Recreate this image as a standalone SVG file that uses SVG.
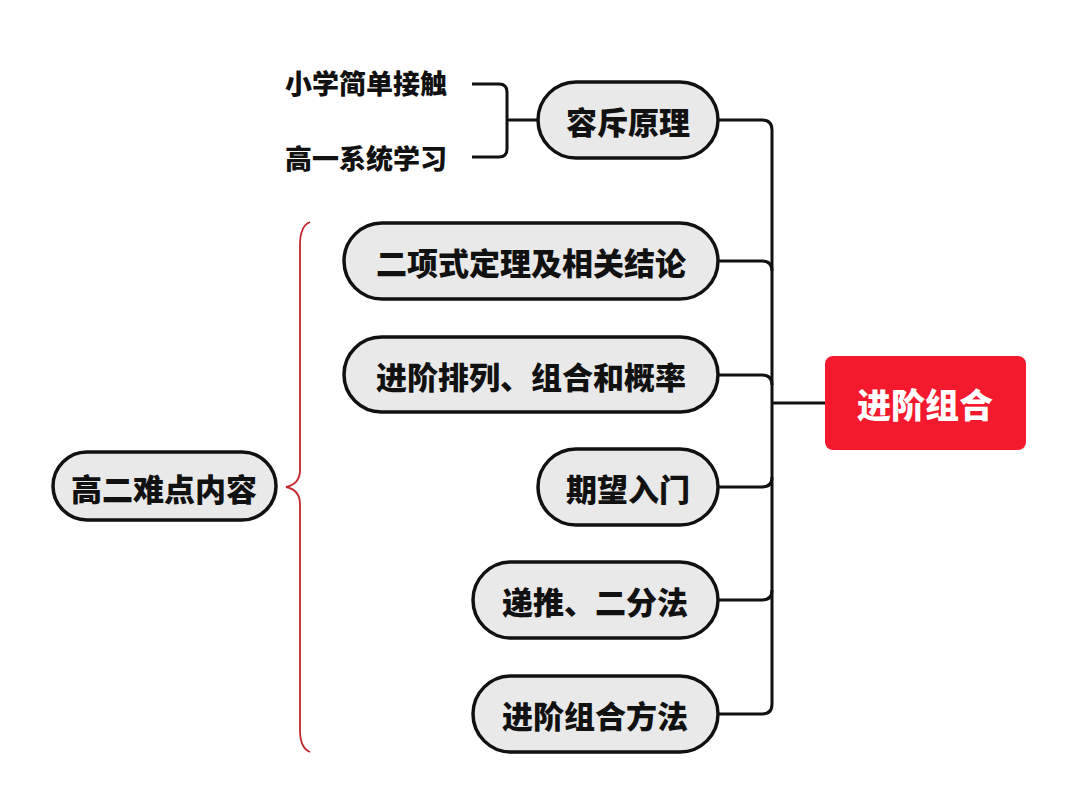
<svg xmlns="http://www.w3.org/2000/svg" width="1080" height="806" viewBox="0 0 1080 806">
<style>
.n{fill:#e9e9e9;stroke:#111;stroke-width:3.5}
.t{font-family:"Noto Sans CJK SC",sans-serif;font-weight:900;font-size:31px;fill:#111;text-anchor:middle;dominant-baseline:central}
.s{font-family:"Noto Sans CJK SC",sans-serif;font-weight:900;font-size:27px;fill:#111;dominant-baseline:central}
.c{fill:none;stroke:#111;stroke-width:3}
</style>
<rect width="1080" height="806" fill="#fff"/>
<g id="connectors">
<path class="c" d="M718,120 H762 Q772,120 772,130 V704 Q772,714 762,714 H718"/>
<path class="c" d="M718,261 H762 Q772,261 772,271"/>
<path class="c" d="M718,375 H762 Q772,375 772,385"/>
<path class="c" d="M718,487 H762 Q772,487 772,477"/>
<path class="c" d="M718,600 H762 Q772,600 772,590"/>
<path class="c" d="M772,403 H825"/>
<path class="c" d="M472,84 H499 Q507,84 507,92 V149 Q507,157 499,157 H472 M507,120 H538"/>
<path fill="none" stroke="#c0272d" stroke-width="1.8" d="M310,222 Q300,226 300,245 V470 Q300,484 286,487 Q300,490 300,504 V730 Q300,748 310,752"/>
</g>
<g id="rongchi"><rect class="n" x="538" y="82" width="180" height="76" rx="38"/><text class="t" x="628" y="120">容斥原理</text></g>
<g id="xiaoxue"><text class="s" x="285" y="82">小学简单接触</text></g>
<g id="gaoyi"><text class="s" x="285" y="157">高一系统学习</text></g>
<g id="erxiang"><rect class="n" x="344" y="223" width="374" height="76" rx="38"/><text class="t" x="531" y="261">二项式定理及相关结论</text></g>
<g id="pailie"><rect class="n" x="344" y="337" width="374" height="75" rx="37.5"/><text class="t" x="531" y="375">进阶排列、组合和概率</text></g>
<g id="qiwang"><rect class="n" x="538" y="449" width="180" height="76" rx="38"/><text class="t" x="628" y="487">期望入门</text></g>
<g id="ditui"><rect class="n" x="473" y="562" width="245" height="76" rx="38"/><text class="t" x="595" y="600">递推、二分法</text></g>
<g id="fangfa"><rect class="n" x="473" y="676" width="245" height="76" rx="38"/><text class="t" x="595" y="714">进阶组合方法</text></g>
<g id="gaoer"><rect class="n" x="53" y="452" width="223" height="68" rx="34"/><text class="t" x="164" y="487">高二难点内容</text></g>
<g id="root"><rect x="825" y="356" width="201" height="94" rx="8" fill="#f5192e"/><text class="t" x="925" y="403" style="fill:#fff;font-size:34px">进阶组合</text></g>
</svg>
